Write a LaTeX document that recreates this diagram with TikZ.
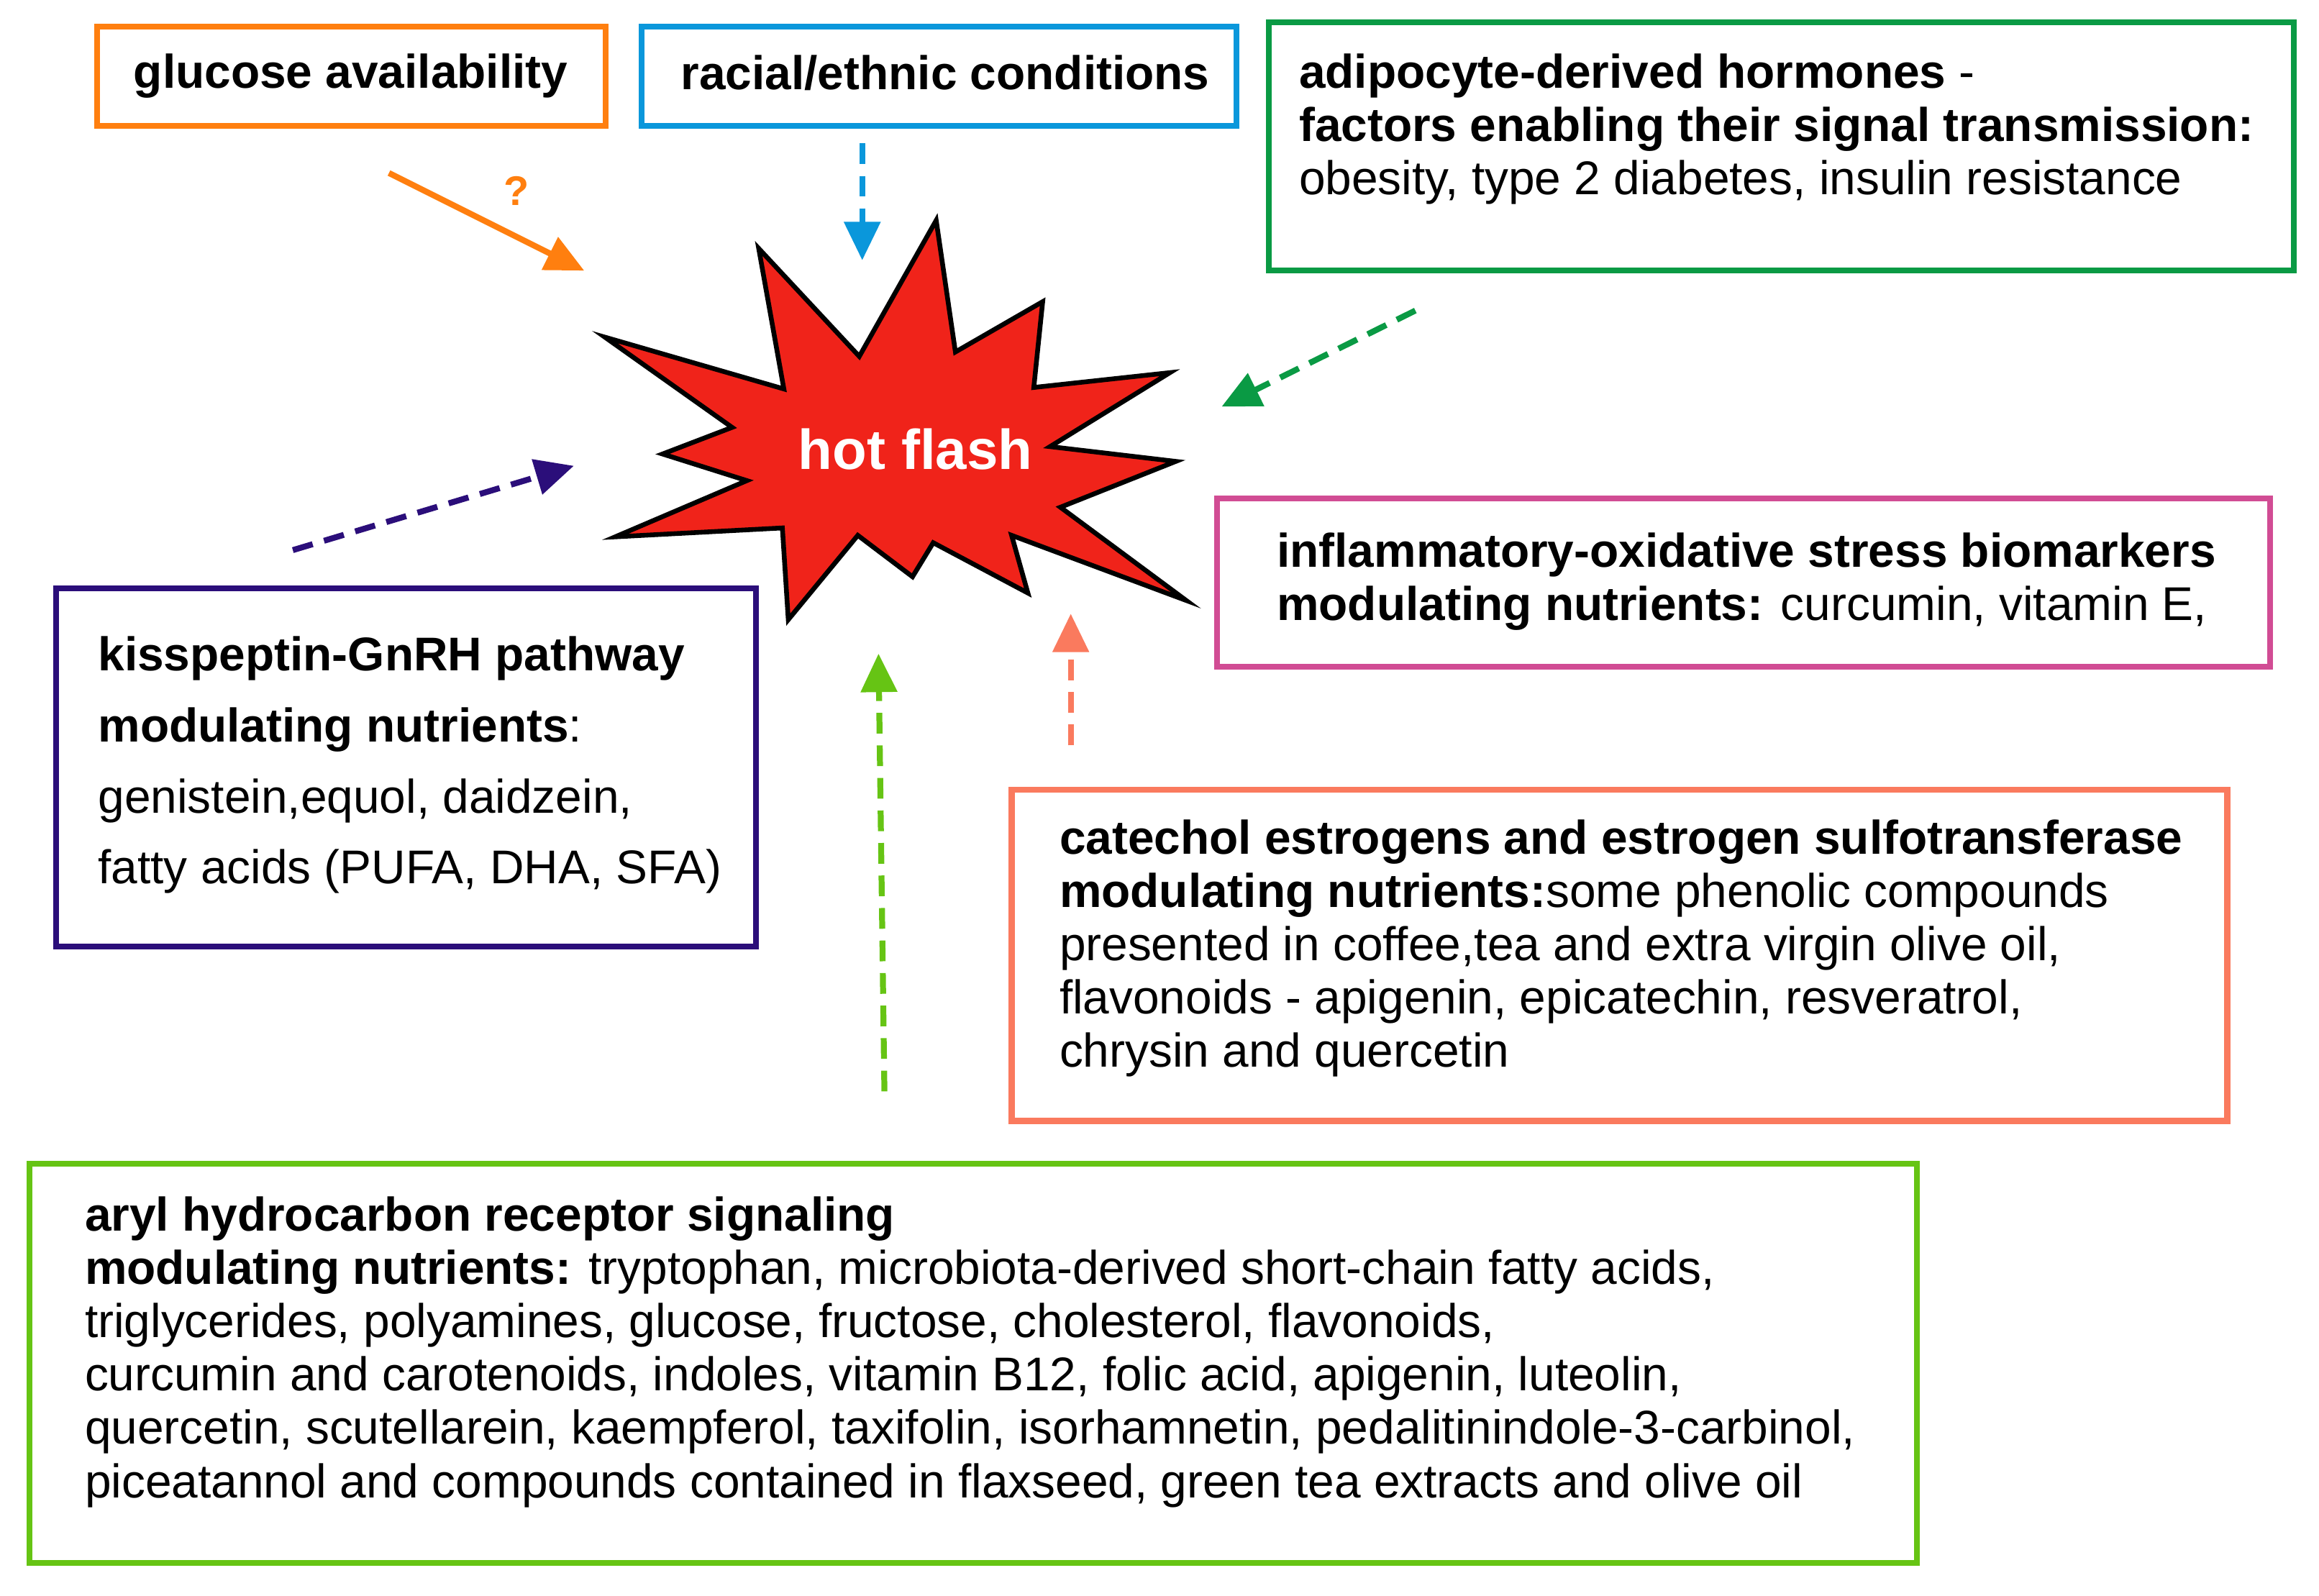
\documentclass[tikz,border=0pt]{standalone}
\usepackage{fontspec}
\setmainfont{Liberation Sans}
\usetikzlibrary{arrows.meta}
\definecolor{cor}{HTML}{FF7F0F}
\definecolor{cbl}{HTML}{0A97DB}
\definecolor{cgr}{HTML}{0A9A44}
\definecolor{cmg}{HTML}{D14C94}
\definecolor{cin}{HTML}{2B0E7A}
\definecolor{csa}{HTML}{FA7A5E}
\definecolor{cli}{HTML}{66C414}
\definecolor{cred}{HTML}{F0231A}
\tikzset{
 boxx/.style={draw=#1,line width=2pt,inner sep=0pt},
 txt/.style={anchor=north west,align=left,inner sep=0pt,font=\fontsize{16pt}{18pt}\selectfont},
 arr/.style={draw=#1,line width=2pt,-{Triangle[length=13pt,width=12pt]}},
 darr/.style={arr=#1,dash pattern=on 7pt off 4pt}
}
\begin{document}
\begin{tikzpicture}[x=0.5pt,y=-0.5pt]
\useasboundingbox (0,0) rectangle (1568,1079);
% boxes
\node[boxx=cor,minimum width=172pt,minimum height=33.5pt] (b1) at (237.5,51.5) {};
\node[txt,font=\fontsize{16pt}{18pt}\selectfont\bfseries] (t1) at (90,36) {glucose availability};
\node[boxx=cbl,minimum width=201pt,minimum height=33.5pt] (b2) at (635,51.5) {};
\node[txt,font=\fontsize{16pt}{18pt}\selectfont\bfseries] (t2) at (460,37) {racial/ethnic conditions};
\node[boxx=cgr,minimum width=346.5pt,minimum height=84pt] (b3) at (1204.5,99) {};
\node[txt] (t3) at (878,36) {\textbf{adipocyte-derived hormones} -\\\textbf{factors enabling their signal transmission:}\\obesity, type 2 diabetes, insulin resistance};
\node[boxx=cmg,minimum width=356pt,minimum height=57pt] (b4) at (1179,394) {};
\node[txt] (t4) at (863,360) {\textbf{inflammatory-oxidative stress biomarkers}\\\textbf{modulating nutrients:} curcumin, vitamin E,};
\node[boxx=cin,minimum width=236.5pt,minimum height=121pt] (b5) at (274.5,519) {};
\node[txt,font=\fontsize{16pt}{24pt}\selectfont] (t5) at (66,430) {\textbf{kisspeptin-GnRH pathway}\\\textbf{modulating nutrients}:\\genistein,equol, daidzein,\\fatty acids (PUFA, DHA, SFA)};
\node[boxx=csa,minimum width=411pt,minimum height=112pt] (b6) at (1095,646) {};
\node[txt] (t6) at (716,554) {\textbf{catechol estrogens and estrogen sulfotransferase}\\\textbf{modulating nutrients:}some phenolic compounds\\presented in coffee,tea and extra virgin olive oil,\\flavonoids - apigenin, epicatechin, resveratrol,\\chrysin and quercetin};
\node[boxx=cli,minimum width=638pt,minimum height=135pt] (b7) at (658,922) {};
\node[txt] (t7) at (57,809) {\textbf{aryl hydrocarbon receptor signaling}\\\textbf{modulating nutrients:} tryptophan, microbiota-derived short-chain fatty acids,\\triglycerides, polyamines, glucose, fructose, cholesterol, flavonoids,\\curcumin and carotenoids, indoles, vitamin B12, folic acid, apigenin, luteolin,\\quercetin, scutellarein, kaempferol, taxifolin, isorhamnetin, pedalitinindole-3-carbinol,\\piceatannol and compounds contained in flaxseed, green tea extracts and olive oil};
% star
\draw[fill=cred,draw=black,line width=1.6pt,line join=miter]
 (513,168)--(581,241)--(633,149)--(646,238)--(705,204)--(699,262)--(791,252)--(710,302)--(795,312)--(717,343)--(802,406)--(684,362)--(695,401)--(631,367)--(617,390)--(580,362)--(533,419)--(529,357)--(416,363)--(505,325)--(448,307)--(495,289)--(409,228)--(530,263)--cycle;
\node[text=white,font=\fontsize{19pt}{20pt}\selectfont\bfseries] (hf) at (619,304) {hot flash};
% arrows
\coordinate (a1) at (263,117); \coordinate (a1e) at (395,183);
\draw[arr=cor] (a1) -- (a1e);
\node[text=cor,font=\fontsize{14pt}{14pt}\selectfont\bfseries] (q) at (349,129) {?};
\coordinate (a2) at (583,97); \coordinate (a2e) at (583,176);
\draw[darr=cbl] (a2) -- (a2e);
\coordinate (a3) at (957,210); \coordinate (a3e) at (826,275);
\draw[darr=cgr] (a3) -- (a3e);
\coordinate (a4) at (198,372); \coordinate (a4e) at (388,315);
\draw[darr=cin] (a4) -- (a4e);
\coordinate (a5) at (598,738); \coordinate (a5e) at (594,442);
\draw[darr=cli] (a5) -- (a5e);
\coordinate (a6) at (724,504); \coordinate (a6e) at (724,415);
\draw[darr=csa] (a6) -- (a6e);
\end{tikzpicture}
\end{document}
